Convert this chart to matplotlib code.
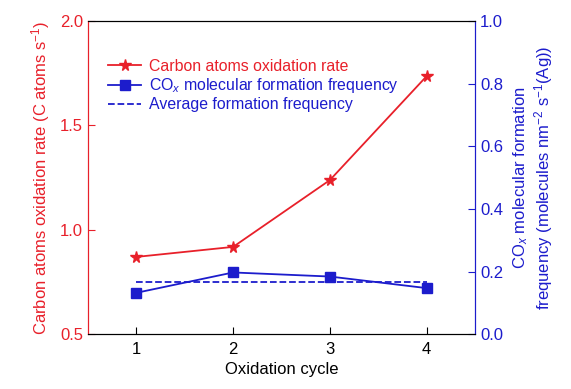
import matplotlib
matplotlib.use("Agg")
import matplotlib.pyplot as plt

plt.rcParams["font.family"] = ["Liberation Sans", "DejaVu Sans"]
plt.rcParams["mathtext.fontset"] = "custom"
plt.rcParams["mathtext.rm"] = "Liberation Sans"
plt.rcParams["mathtext.it"] = "Liberation Sans:italic"
plt.rcParams["mathtext.default"] = "regular"

cycles = [1, 2, 3, 4]
oxidation_rate = [0.87, 0.918, 1.238, 1.736]
cox_frequency = [0.132, 0.197, 0.184, 0.147]
avg_frequency = 0.165

red = "#e8202a"
blue = "#1c1ccc"

fig = plt.figure(figsize=(5.71, 3.89), dpi=100)
ax = fig.add_axes([0.154, 0.141, 0.678, 0.805])
ax2 = ax.twinx()

l1, = ax.plot(cycles, oxidation_rate, color=red, marker="*", markersize=8.5,
              lw=1.3, label="Carbon atoms oxidation rate")
l2, = ax2.plot(cycles, cox_frequency, color=blue, marker="s", markersize=7,
               lw=1.3, label="CO$_{\\it{x}}$ molecular formation frequency")
l3, = ax2.plot([cycles[0], cycles[-1]], [avg_frequency, avg_frequency],
               color=blue, ls="--", lw=1.3, label="Average formation frequency")

ax.set_xlim(0.5, 4.5)
ax.set_ylim(0.5, 2.0)
ax2.set_ylim(0.0, 1.0)
ax.set_xticks(cycles)
ax.set_yticks([0.5, 1.0, 1.5, 2.0])
ax2.set_yticks([0.0, 0.2, 0.4, 0.6, 0.8, 1.0])
ax.yaxis.set_major_formatter(matplotlib.ticker.FormatStrFormatter("%.1f"))
ax2.yaxis.set_major_formatter(matplotlib.ticker.FormatStrFormatter("%.1f"))

ax.tick_params(axis="x", direction="in", length=5, labelsize=12, pad=6)
ax.tick_params(axis="y", direction="in", length=5, labelsize=12, colors=red)
ax2.tick_params(axis="y", direction="in", length=5, labelsize=12, colors=blue)

ax2.spines["left"].set_color(red)
ax2.spines["right"].set_color(blue)
ax.spines["left"].set_color(red)
ax.spines["right"].set_color(blue)

ax.set_xlabel("Oxidation cycle", fontsize=12, labelpad=3)
ax.set_ylabel("Carbon atoms oxidation rate (C atoms s$^{-1}$)", fontsize=12,
              color=red, labelpad=6)
ax2.set_ylabel("CO$_{\\it{x}}$ molecular formation\nfrequency (molecules nm$^{-2}$ s$^{-1}$(Ag))",
               fontsize=12, color=blue, labelpad=6, linespacing=1.1)

leg = ax2.legend(handles=[l1, l2, l3], loc="upper left", frameon=False,
                 fontsize=11.4, handlelength=2.1, handletextpad=0.5,
                 labelspacing=0.15, bbox_to_anchor=(0.015, 0.925))
for text, c in zip(leg.get_texts(), [red, blue, blue]):
    text.set_color(c)

fig.savefig("out.png", dpi=100)
